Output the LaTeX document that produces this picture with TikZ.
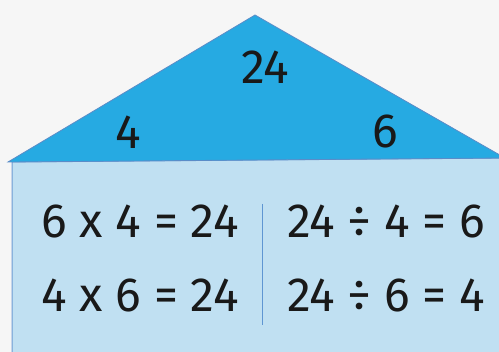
\documentclass[tikz,border=0pt]{standalone}
\usepackage{fontspec}
\setmainfont{Fira Sans}
\definecolor{bgc}{RGB}{246,246,246}
\definecolor{roof}{RGB}{38,170,226}
\definecolor{roofline}{RGB}{90,140,200}
\definecolor{wall}{RGB}{192,224,242}
\definecolor{wallline}{RGB}{110,155,210}
\definecolor{divc}{RGB}{95,150,210}
\tikzset{
  num/.style={font=\fontsize{48}{52}\selectfont, text=black!90, inner sep=0pt},
  eq/.style={font=\fontsize{48}{52}\selectfont, text=black!90, inner sep=0pt},
}
\begin{document}
\begin{tikzpicture}[x=1pt,y=1pt]
\fill[bgc] (0,0) rectangle (499,352);
\useasboundingbox (0,0) rectangle (499,352);
% wall
\filldraw[fill=wall, draw=wallline, line width=1pt] (12,-5) -- (12,190) -- (505,194) -- (505,-5);
% roof
\filldraw[fill=roof, draw=roofline, line width=0.8pt] (8,190) -- (255,337) -- (505,194) -- cycle;
% labels
\node[num] (top) at (265,285) {24};
\node[num] (left) at (128,220) {4};
\node[num] (right) at (385,220) {6};
% divider
\coordinate (dtop) at (262,148);
\coordinate (dbot) at (262,27);
\draw[divc, line width=0.8pt] (dtop) -- (dbot);
% equations
\node[eq, anchor=east] (e1) at (239,130) {6 x 4 = 24};
\node[eq, anchor=east] (e2) at (239,56) {4 x 6 = 24};
\node[eq, anchor=west] (e3) at (287,130) {24 ÷ 4 = 6};
\node[eq, anchor=west] (e4) at (287,56) {24 ÷ 6 = 4};
\end{tikzpicture}
\end{document}
